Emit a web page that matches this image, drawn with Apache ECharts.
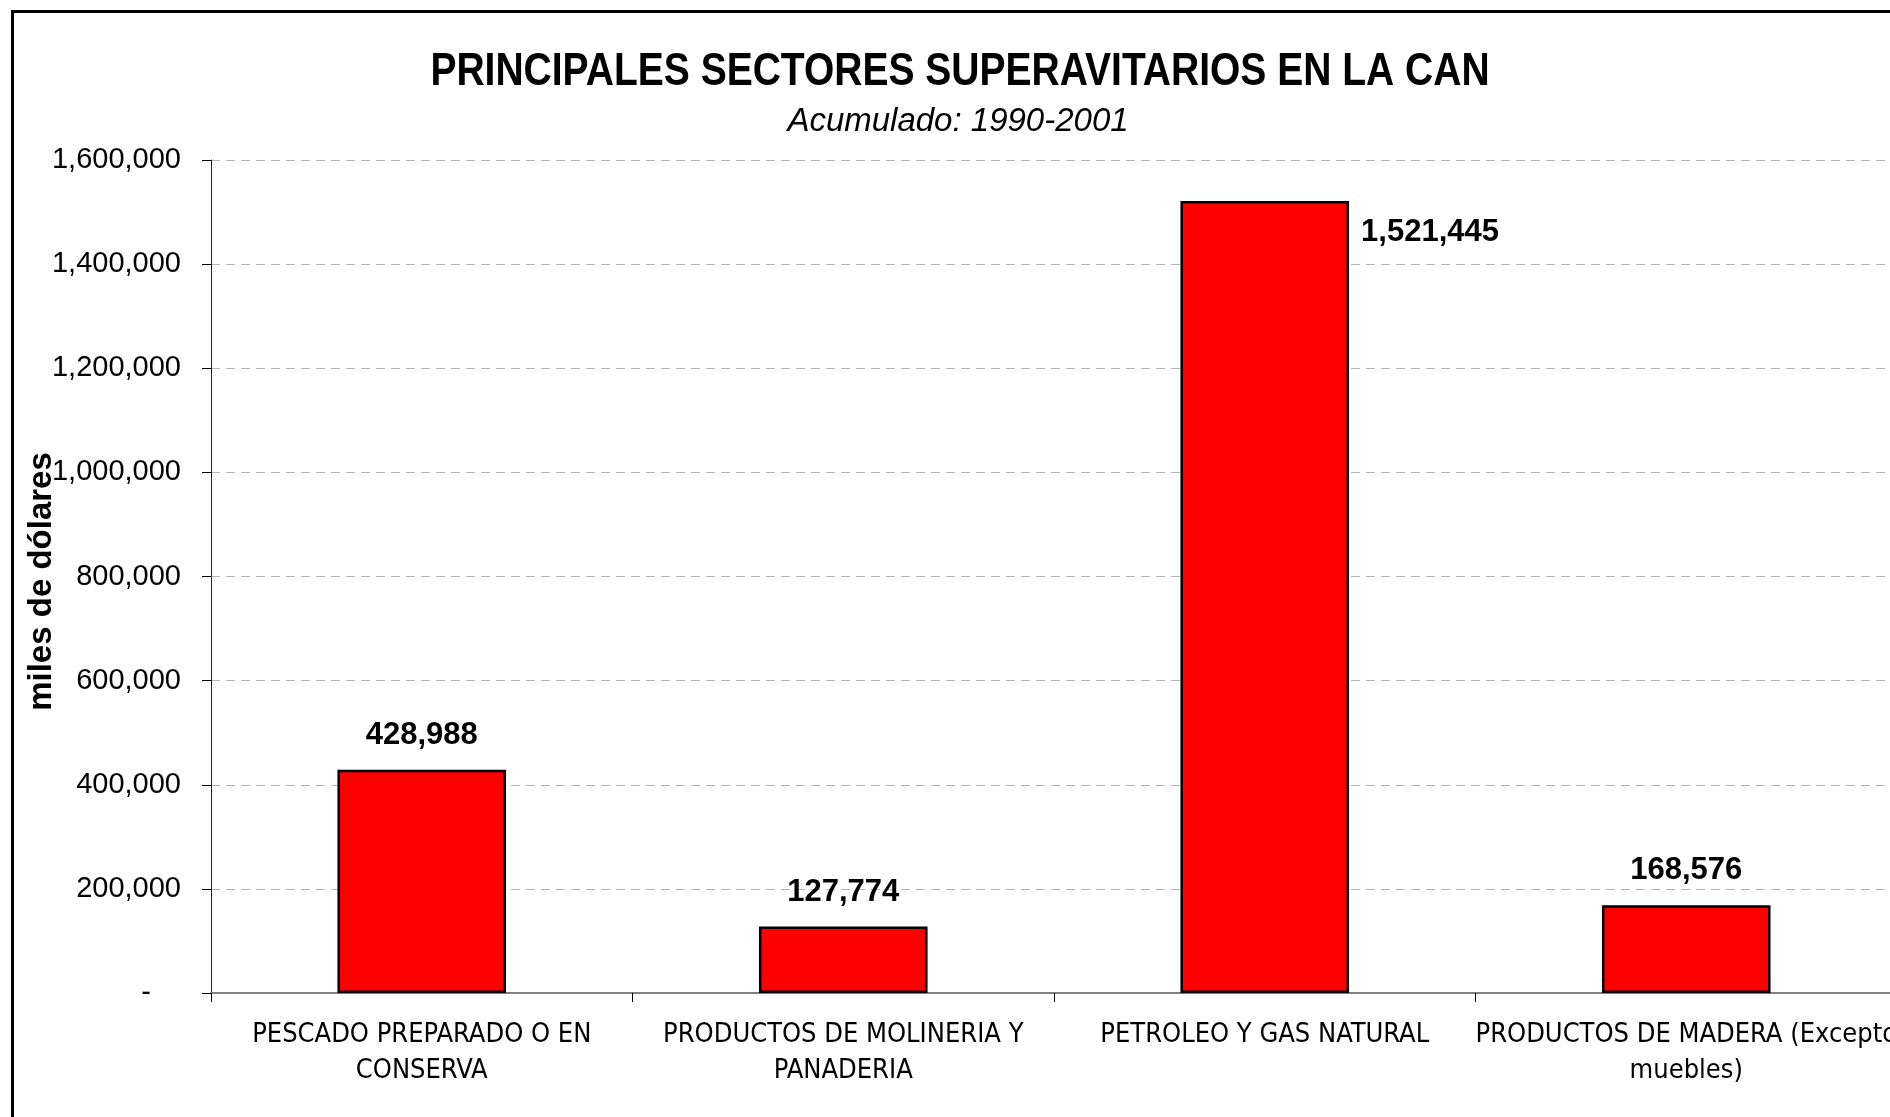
<!DOCTYPE html>
<html>
<head>
<meta charset="utf-8">
<script src="https://cdn.jsdelivr.net/npm/echarts@6/dist/echarts.min.js"></script>
<style>
html,body{margin:0;padding:0;background:#fff;}
#chart{width:1890px;height:1117px;}
</style>
</head>
<body>
<div id="chart"></div>
<script>
const titleText = 'PRINCIPALES SECTORES SUPERAVITARIOS EN LA CAN';
const subtitleText = 'Acumulado: 1990-2001';
const yAxisName = 'miles de dólares';
const categories = [
  'PESCADO PREPARADO O EN\nCONSERVA',
  'PRODUCTOS DE MOLINERIA Y\nPANADERIA',
  'PETROLEO Y GAS NATURAL',
  'PRODUCTOS DE MADERA (Excepto\nmuebles)'
];
const values = [428988, 127774, 1521445, 168576];
const yMin = 0;
const yMax = 1600000;
const yInterval = 200000;

const NARROW = "'DejaVu Sans Condensed', 'Liberation Sans Narrow', 'Arial Narrow', sans-serif";
const SANS = "'Liberation Sans', Arial, sans-serif";
const RIGHT_LABEL_INDEX = 2;

function fmt(v) { return v.toLocaleString('en-US'); }

const chart = echarts.init(document.getElementById('chart'), null, {renderer: 'canvas'});
chart.setOption({
  backgroundColor: '#ffffff',
  animation: false,
  title: [
    {
      text: subtitleText,
      left: 953, top: 100, textAlign: 'center',
      textStyle: {fontFamily: SANS, fontStyle: 'italic', fontWeight: 'normal', fontSize: 33, color: '#000'}
    }
  ],
  graphic: [
    {
      type: 'rect', left: 10, top: 9, silent: true,
      shape: {width: 1950, height: 1200},
      style: {fill: 'none', stroke: '#000', lineWidth: 3}
    },
    {
      type: 'text', x: 960, y: 72, scaleX: 0.83, silent: true,
      style: {
        text: titleText,
        font: "bold 47px 'Liberation Sans', Arial, sans-serif",
        fill: '#000',
        align: 'center', verticalAlign: 'middle',
        textAlign: 'center', textVerticalAlign: 'middle'
      }
    }
  ],
  grid: {left: 211, top: 160, width: 1686, bottom: 124, containLabel: false, outerBoundsMode: 'none'},
  xAxis: {
    type: 'category',
    data: categories,
    boundaryGap: true,
    axisLine: {show: true, lineStyle: {color: '#808080', width: 2}},
    axisTick: {show: true, alignWithLabel: false, length: 9, lineStyle: {color: '#000', width: 1}},
    axisLabel: {
      interval: 0, margin: 24,
      fontFamily: NARROW, fontSize: 27, lineHeight: 36, color: '#000', align: 'center'
    },
    splitLine: {show: false}
  },
  yAxis: {
    type: 'value',
    min: yMin, max: yMax, interval: yInterval,
    name: yAxisName,
    nameLocation: 'middle',
    nameGap: 153,
    nameMoveOverlap: false,
    nameTextStyle: {fontFamily: SANS, fontWeight: 'bold', fontSize: 33, color: '#000', padding: [0, 10, 0, 0]},
    axisLine: {show: true, lineStyle: {color: '#222', width: 1}},
    axisTick: {show: true, length: 9, lineStyle: {color: '#000', width: 1}},
    axisLabel: {
      margin: 30, fontFamily: SANS, fontSize: 29, color: '#000',
      formatter: function (v) { return v === 0 ? '{z|-}' : fmt(v); },
      rich: {z: {fontFamily: SANS, fontSize: 29, color: '#000', padding: [0, 30, 0, 0]}}
    },
    splitLine: {show: true, lineStyle: {color: '#b4b4b4', width: 1.2, type: [9, 6]}}
  },
  series: [
    {
      type: 'bar',
      barWidth: '40%',
      data: values.map(function (v, i) {
        const item = {value: v};
        if (i === RIGHT_LABEL_INDEX) {
          item.label = {position: ['100%', 0], align: 'left', verticalAlign: 'middle', offset: [12, 32]};
        }
        return item;
      }),
      itemStyle: {color: '#ff0000', borderColor: '#000', borderWidth: 2.5},
      label: {
        show: true, position: 'top', distance: 19,
        fontFamily: SANS, fontWeight: 'bold', fontSize: 31, color: '#000',
        formatter: function (p) { return fmt(p.value); }
      }
    }
  ]
});
</script>
</body>
</html>
